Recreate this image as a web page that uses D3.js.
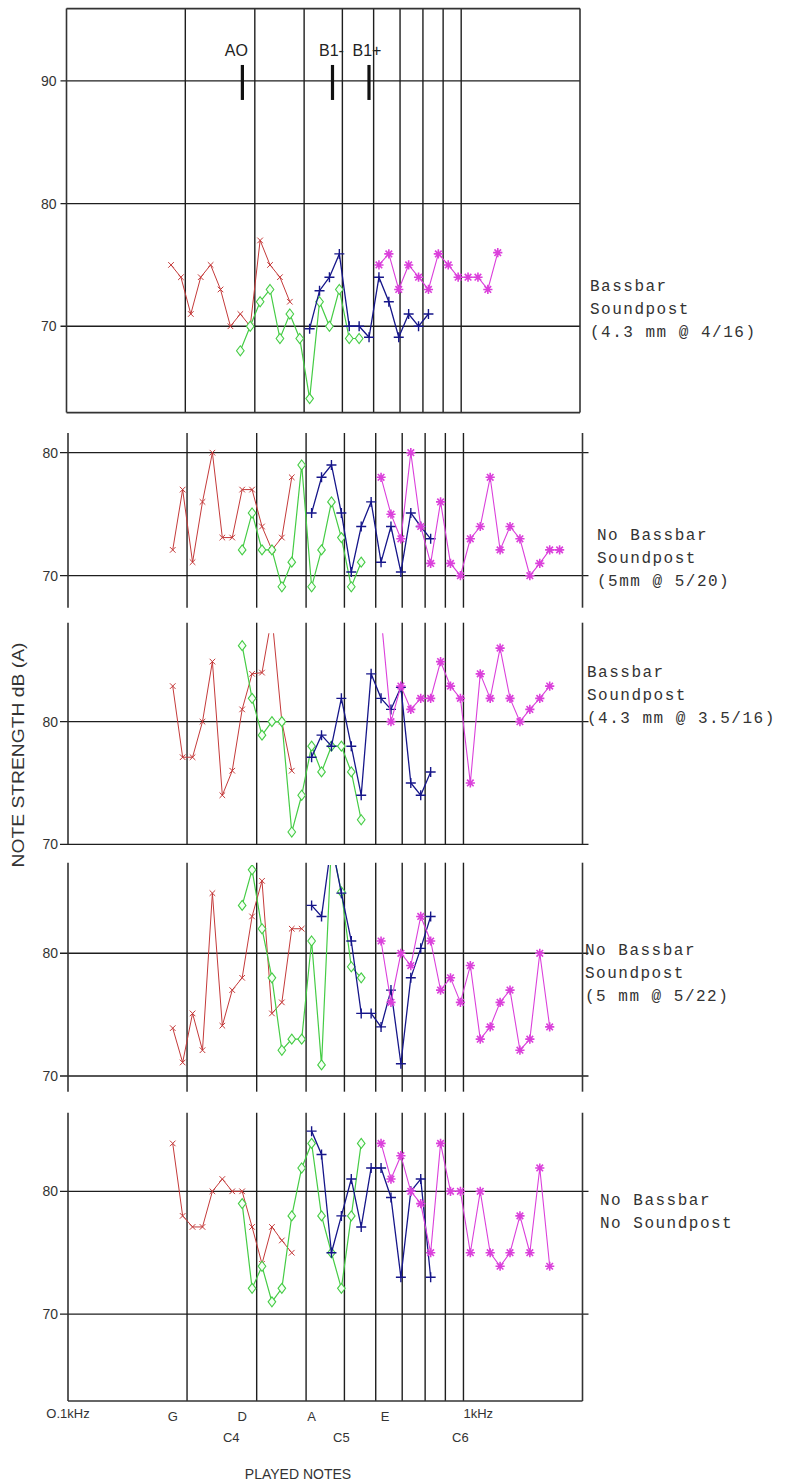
<!DOCTYPE html>
<html><head><meta charset="utf-8">
<script src="https://cdn.jsdelivr.net/npm/d3@7"></script>
<style>body{margin:0;background:#fff}svg{display:block}</style>
</head><body>
<svg id="c" width="785" height="1484"></svg>
<script>
// ---------------- DATA ----------------
// plotted position of the lowest played note (open G string), Hz
const NOTE_BASE_HZ = 184;
// frequency grid lines (Hz)
const gridHz = [200, 300, 400, 500, 600, 700, 800, 900, 1000];
const xDomainHz = [100, 2000];
// series: the four strings, first note index (semitones above open G)
const seriesNames = ["G string", "D string", "A string", "E string"];
const seriesStart = [0, 7, 14, 21];

// Panel 1: Bassbar, Soundpost (4.3 mm @ 4/16)
const p1G = [75, 74, 71, 74, 75, 73, 70, 71, 70, 77, 75, 74, 72];
const p1D = [68, 70, 72, 73, 69, 71, 69, 64.1, 72, 70, 73, 69, 69];
const p1A = [69.8, 72.9, 74, 75.9, 70, 70, 69.1, 74, 72, 69.1, 71, 70, 71];
const p1E = [75, 75.9, 73, 75, 74, 73, 75.9, 75, 74, 74, 74, 73, 76];
// Panel 2: No Bassbar, Soundpost (5mm @ 5/20)
const p2G = [72.1, 77, 71.1, 76, 80, 73.1, 73.1, 77, 77, 74, 72.1, 73.1, 78];
const p2D = [72.1, 75.1, 72.1, 72.1, 69.1, 71.1, 79, 69.1, 72.1, 76, 73.1, 69.1, 71.1];
const p2A = [75.1, 78, 79, 75.1, 70.3, 74, 76, 71.1, 74, 70.3, 75.1, 74, 73];
const p2E = [78, 75, 73, 80, 74, 71, 76, 71, 70, 73, 74, 78, 72.1, 74, 73, 70, 71, 72.1, 72.1];
// Panel 3: Bassbar, Soundpost (4.3 mm @ 3.5/16)
const p3G = [82.9, 77.1, 77.1, 80, 84.9, 74, 76, 81, 83.9, 84, 88.6, 80, 76];
const p3D = [86.2, 81.9, 78.9, 80, 80, 71, 74, 78, 75.9, 78, 78, 75.9, 72];
const p3A = [77.1, 78.9, 78, 81.9, 78, 74, 83.9, 81.9, 81, 82.8, 75, 74, 75.9];
const p3E = [88.6, 80, 82.9, 81, 81.9, 81.9, 84.9, 82.9, 81.9, 75, 83.9, 81.9, 86, 81.9, 80, 81, 81.9, 82.9];
// Panel 4: No Bassbar, Soundpost (5 mm @ 5/22)
const p4G = [73.9, 71.1, 75.1, 72.1, 84.9, 74.1, 77, 78, 83, 85.9, 75.1, 76, 82, 82];
const p4D = [83.9, 86.8, 82, 78, 72.1, 73, 73, 81, 70.9, 89, 85, 78.9, 78];
const p4A = [83.9, 83, 89, 84.9, 81, 75.1, 75.1, 74, 77, 71, 78, 80.4, 83];
const p4E = [81, 76, 80, 79, 83, 81, 77, 78, 76, 79, 73, 74, 76, 77, 72.1, 73, 80, 74];
// Panel 5: No Bassbar, No Soundpost
const p5G = [83.9, 78, 77.1, 77.1, 80, 81, 80, 80, 77.1, 74.1, 77.1, 76, 75];
const p5D = [79, 72.1, 73.9, 71, 72.1, 78, 81.9, 83.9, 78, 75, 72.1, 78, 83.9];
const p5A = [84.9, 83, 75, 78, 81, 77.1, 81.9, 81.9, 79.5, 73, 80, 81, 73];
const p5E = [83.9, 81, 82.9, 80, 79, 75, 83.9, 80, 80, 75, 80, 75, 73.9, 75, 78, 75, 81.9, 73.9];

const panelSeries = [[p1G, p1D, p1A, p1E], [p2G, p2D, p2A, p2E], [p3G, p3D, p3A, p3E],
                     [p4G, p4D, p4A, p4E], [p5G, p5D, p5A, p5E]];
const panelTicks = [[70, 80, 90], [70, 80], [70, 80], [70, 80], [70, 80]];
const panelLabels = [
  ["Bassbar", "Soundpost", "(4.3 mm @ 4/16)"],
  ["No Bassbar", "Soundpost", "(5mm @ 5/20)"],
  ["Bassbar", "Soundpost", "(4.3 mm @ 3.5/16)"],
  ["No Bassbar", "Soundpost", "(5 mm @ 5/22)"],
  ["No Bassbar", "No Soundpost"]
];
// body resonances marked in the first panel (Hz)
const resonanceNames = ["AO", "B1-", "B1+"];
const resonanceHz = [279, 472, 584];
// bottom axis labels: note labels at semitone index above open G
const noteLabels = ["G", "D", "A", "E"];
const noteLabelIdx = [0, 7, 14, 21.4];
const octaveLabels = ["C4", "C5", "C6"];
const octaveLabelIdx = [5.9, 17, 29];
const freqLabels = ["O.1kHz", "1kHz"];
const freqLabelHz = [100, 1000];

// ---------------- LAYOUT ----------------
const layout = [
  {top: 8.6, bottom: 412.6, left: 66.5, right: 580, dom: [62.96, 95.9], clipTop: 8.6, box: true, extL: 6, extR: 0, labX: 590, labY: 290.5},
  {top: 433, bottom: 607.7, left: 68, right: 582.5, dom: [67.4, 81.6], clipTop: 433, extL: 8, extR: 6, labX: 597, labY: 540},
  {top: 622.7, bottom: 844.3, left: 68, right: 582.5, dom: [70, 88.07], clipTop: 633.3, extL: 8, extR: 6, labX: 587, labY: 677},
  {top: 862.7, bottom: 1091.7, left: 68, right: 582.5, dom: [68.72, 87.38], clipTop: 865, extL: 8, extR: 6, labX: 585, labY: 955},
  {top: 1112.7, bottom: 1401, left: 68, right: 582.5, dom: [62.93, 86.4], clipTop: 1112.7, extL: 8, extR: 6, labX: 600, labY: 1205, bottomLine: true}
];
const colors = ["#c43a3a", "#45cc45", "#16168a", "#db40db"];
const lineW = [1, 1.2, 1.3, 1.1];
const markerPaths = [
  "M-2.8,-2.8L2.8,2.8M-2.8,2.8L2.8,-2.8",
  "M0,-5L3.8,0L0,5L-3.8,0Z",
  "M-5,0H5M0,-5V5",
  "M-4.6,0H4.6M0,-4.6V4.6M-3.3,-3.3L3.3,3.3M-3.3,3.3L3.3,-3.3"
];
const markerW = [1, 1.1, 1.4, 1.6];
const gridColor = "#1e1e1e";

const svg = d3.select("#c");
const defs = svg.append("defs");
const noteHz = i => NOTE_BASE_HZ * Math.pow(2, i / 12);

let lastX;
layout.forEach((L, p) => {
  const x = d3.scaleLog().domain(xDomainHz).range([L.left, L.right]);
  const y = d3.scaleLinear().domain(L.dom).range([L.bottom, L.top]);
  lastX = x;
  const g = svg.append("g");

  g.selectAll(".hg").data(panelTicks[p]).enter().append("line")
    .attr("x1", L.left - L.extL).attr("x2", L.right + L.extR)
    .attr("y1", d => y(d)).attr("y2", d => y(d))
    .attr("stroke", gridColor).attr("stroke-width", 1.3);
  g.selectAll(".vg").data(gridHz).enter().append("line")
    .attr("x1", d => x(d)).attr("x2", d => x(d))
    .attr("y1", L.top).attr("y2", L.bottom)
    .attr("stroke", gridColor).attr("stroke-width", 1.4);
  g.selectAll(".sb").data(xDomainHz).enter().append("line")
    .attr("x1", d => x(d)).attr("x2", d => x(d))
    .attr("y1", L.top).attr("y2", L.bottom)
    .attr("stroke", "#333").attr("stroke-width", 1.6);
  if (L.box) {
    g.selectAll(".tb").data([L.top, L.bottom]).enter().append("line")
      .attr("x1", L.left).attr("x2", L.right).attr("y1", d => d).attr("y2", d => d)
      .attr("stroke", "#333").attr("stroke-width", 1.6);
  }
  if (L.bottomLine) {
    g.append("line").attr("x1", L.left).attr("x2", L.right)
      .attr("y1", L.bottom).attr("y2", L.bottom)
      .attr("stroke", "#333").attr("stroke-width", 1.6);
  }
  g.selectAll(".tl").data(panelTicks[p]).enter().append("text")
    .attr("x", L.left - 10).attr("y", d => y(d) + 5)
    .attr("text-anchor", "end").attr("font-family", "Liberation Sans, Arial, sans-serif")
    .attr("font-size", 14).attr("fill", "#333").text(d => d);

  const cid = "clip" + p;
  defs.append("clipPath").attr("id", cid).append("rect")
    .attr("x", L.left).attr("y", L.clipTop).attr("width", L.right - L.left)
    .attr("height", L.bottom - L.clipTop);
  const dg = g.append("g").attr("clip-path", `url(#${cid})`);

  panelSeries[p].forEach((vals, s) => {
    const pts = vals.map((v, k) => ({i: seriesStart[s] + k, v}));
    const line = d3.line().x(d => x(noteHz(d.i))).y(d => y(d.v));
    dg.append("path").datum(pts).attr("d", line).attr("fill", "none")
      .attr("stroke", colors[s]).attr("stroke-width", lineW[s]);
    dg.selectAll(".m" + s).data(pts).enter().append("path")
      .attr("transform", d => `translate(${x(noteHz(d.i))},${y(d.v)})`)
      .attr("d", markerPaths[s])
      .attr("fill", s === 1 ? "#f4fff4" : "none")
      .attr("stroke", colors[s]).attr("stroke-width", markerW[s]);
  });

  g.selectAll(".rl").data(panelLabels[p]).enter().append("text")
    .attr("x", L.labX).attr("y", (d, k) => L.labY + k * 23)
    .attr("font-family", "Liberation Mono, Courier New, monospace")
    .attr("font-size", 16).attr("letter-spacing", 1.5).attr("fill", "#333")
    .text(d => d);

  if (p === 0) {
    const rg = g.selectAll(".res").data(resonanceHz).enter().append("g");
    rg.append("line").attr("x1", d => x(d)).attr("x2", d => x(d))
      .attr("y1", y(90) - 16).attr("y2", y(90) + 19)
      .attr("stroke", "#111").attr("stroke-width", 3.2);
    rg.append("text").attr("x", (d, k) => x(d) + [-6, -1, -2][k]).attr("y", y(90) - 25)
      .attr("text-anchor", "middle").attr("font-family", "Liberation Sans, Arial, sans-serif")
      .attr("font-size", 16).attr("fill", "#222").text((d, k) => resonanceNames[k]);
  }
});

const lf = "Liberation Sans, Arial, sans-serif";
svg.selectAll(".fl").data(freqLabelHz).enter().append("text")
  .attr("x", d => lastX(d)).attr("y", 1418)
  .attr("text-anchor", (d, k) => k === 0 ? "middle" : "start")
  .attr("font-family", lf).attr("font-size", 13).attr("fill", "#333")
  .text((d, k) => freqLabels[k]);
svg.selectAll(".nl").data(noteLabelIdx).enter().append("text")
  .attr("x", d => lastX(noteHz(d))).attr("y", 1421)
  .attr("text-anchor", "middle").attr("font-family", lf).attr("font-size", 13).attr("fill", "#333")
  .text((d, k) => noteLabels[k]);
svg.selectAll(".ol").data(octaveLabelIdx).enter().append("text")
  .attr("x", d => lastX(noteHz(d))).attr("y", 1442)
  .attr("text-anchor", "middle").attr("font-family", lf).attr("font-size", 13).attr("fill", "#333")
  .text((d, k) => octaveLabels[k]);
svg.append("text").attr("x", 298).attr("y", 1479).attr("text-anchor", "middle")
  .attr("font-family", lf).attr("font-size", 14).attr("fill", "#333").text("PLAYED NOTES");
svg.append("text").attr("transform", "translate(24,755) rotate(-90)")
  .attr("text-anchor", "middle").attr("font-family", lf).attr("font-size", 16)
  .attr("textLength", 225).attr("lengthAdjust", "spacingAndGlyphs")
  .attr("fill", "#333").text("NOTE STRENGTH dB (A)");
</script>
</body></html>
